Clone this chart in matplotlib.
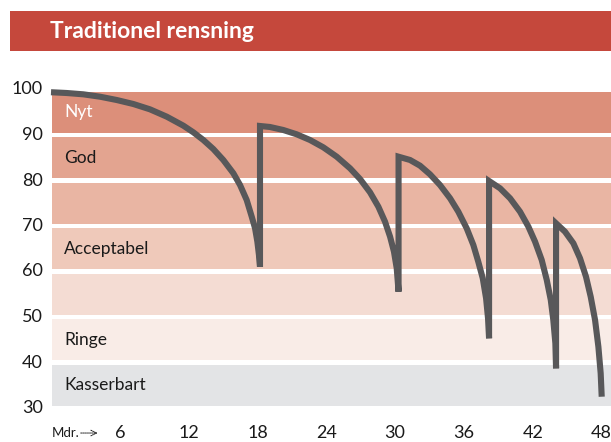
import matplotlib.pyplot as plt
from matplotlib.patches import Rectangle

# band limits (value ranges) and labels
band_lo = [90, 80, 70, 60, 50, 40, 30]
band_hi = [100, 90, 80, 70, 60, 50, 40]
band_colors = ["#dc8f7a", "#e3a490", "#e9b5a3", "#efc9ba", "#f4dcd3", "#f9ece7", "#e3e4e6"]
band_labels = ["Nyt", "God", "", "Acceptabel", "", "Ringe", "Kasserbart"]

x_ticks = [6, 12, 18, 24, 30, 36, 42, 48]
y_ticks = [30, 40, 50, 60, 70, 80, 90, 100]

# condition curve (months, value) per cleaning cycle
arc1_m = [0, 1.37, 2.82, 4.27, 5.73, 7.18, 8.63, 10.09, 11.54, 12.41, 13.28,
          14.15, 15.02, 15.9, 16.48, 17.06, 17.5, 17.79, 17.99, 18.13, 18.22]
arc1_v = [99.4, 99.23, 98.94, 98.42, 97.69, 96.81, 95.64, 94.03, 92.05, 90.59, 88.9,
          86.92, 84.51, 81.58, 79.01, 75.71, 72.05, 69.49, 66.56, 63.6, 61.05]
arc2_m = [18.22, 19.09, 20.25, 21.42, 22.58, 23.74, 24.91, 26.07, 26.94, 27.81,
          28.54, 29.12, 29.56, 29.9, 30.14, 30.3]
arc2_v = [91.98, 91.76, 91.1, 90.15, 88.9, 87.29, 85.23, 82.68, 80.33, 77.41,
          74.24, 70.95, 67.65, 64.35, 60.7, 55.56]
arc3_m = [30.3, 31.3, 32.17, 33.04, 33.91, 34.79, 35.51, 36.24, 36.82, 37.25,
          37.64, 37.93, 38.1, 38.19]
arc3_v = [85.23, 84.51, 83.26, 81.36, 79.01, 76.09, 73.14, 69.49, 65.82, 62.15,
          58.5, 54.11, 49.71, 45.32]
arc4_m = [38.19, 39.15, 40.02, 40.89, 41.62, 42.2, 42.78, 43.22, 43.57, 43.79,
          43.97, 44.03]
arc4_v = [79.89, 78.28, 76.09, 73.14, 69.85, 66.56, 62.53, 58.13, 53.74, 49.34,
          44.22, 38.72]
arc5_m = [44.03, 44.81, 45.54, 46.12, 46.64, 47.05, 47.43, 47.72, 47.92, 48.01]
arc5_v = [70.59, 68.75, 66.2, 62.9, 58.86, 54.46, 49.34, 43.47, 37.63, 32.48]

plt.rcParams["font.family"] = ["Lato", "DejaVu Sans"]

W, H = 611, 442
fig = plt.figure(figsize=(W / 100, H / 100), dpi=100)

# title bar
fig.patches.append(Rectangle((10 / W, 1 - 51 / H), 1 - 10 / W, 40 / H,
                             transform=fig.transFigure, facecolor="#c5483c",
                             edgecolor="none"))
fig.text(50 / W, 1 - 32 / H, "Traditionel rensning", color="white",
         fontsize=16.5, fontweight="bold", va="center", ha="left")

ax = fig.add_axes([51 / W, 34 / H, (W - 51) / W, (408 - 89.5) / H])
ax.set_xlim(0, 48.82)
ax.set_ylim(30, 100)
ax.axis("off")

gap = 0.45
for lo, hi, c, lab in zip(band_lo, band_hi, band_colors, band_labels):
    ax.axhspan(lo + gap, hi - gap, xmin=0.002, xmax=1, color=c, lw=0, zorder=1)
    if lab:
        ax.text(1.15, (lo + hi) / 2, lab, fontsize=12.5, va="center", ha="left",
                color="white" if lab == "Nyt" else "#1a1a1a", zorder=2)

curve_m = arc1_m + arc2_m + arc3_m + arc4_m + arc5_m
curve_v = arc1_v + arc2_v + arc3_v + arc4_v + arc5_v
ax.plot(curve_m, curve_v, color="#58585a", lw=4.4, solid_joinstyle="miter",
        solid_capstyle="butt", zorder=3, clip_on=False)

# tick labels
for v in y_ticks:
    ax.text(-0.7, v, str(v), fontsize=13, ha="right", va="center", color="#1a1a1a",
            clip_on=False)
for m in x_ticks:
    ax.text(m, 24.5, str(m), fontsize=13, ha="center", va="center", color="#1a1a1a",
            clip_on=False)
ax.text(0.05, 24.5, "Mdr.", fontsize=9.5, ha="left", va="center",
        color="#1a1a1a", clip_on=False)
ax.annotate("", xy=(4.3, 24.5), xytext=(2.35, 24.5), annotation_clip=False,
            arrowprops=dict(arrowstyle="->", lw=0.7, ls=(0, (1, 1)), color="#1a1a1a"))

fig.savefig("out.png", dpi=100)
